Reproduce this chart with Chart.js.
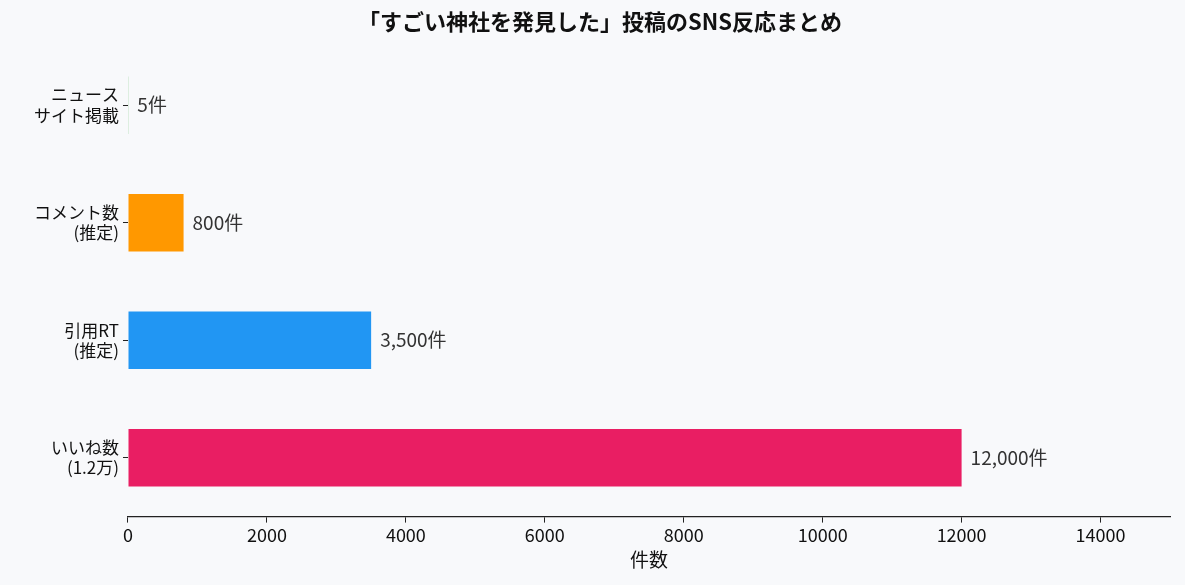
<!DOCTYPE html>
<html><head><meta charset="utf-8">
<script src="https://cdn.jsdelivr.net/npm/chart.js@4"></script>
<style>
html,body{margin:0;background:#f8f9fb;}
#wrap{width:1185px;height:585px;}
</style></head>
<body><div id="wrap"><canvas id="c"></canvas></div>
<script>
const categories = [['ニュース','サイト掲載'], ['コメント数','(推定)'], ['引用RT','(推定)'], ['いいね数','(1.2万)']];
const values = [5, 800, 3500, 12000];
const valueLabels = ['5件', '800件', '3,500件', '12,000件'];
const colors = ['#4CAF50', '#FF9800', '#2196F3', '#E91E63'];
const xTicks = [0, 2000, 4000, 6000, 8000, 10000, 12000, 14000];

const FONT = "'Noto Sans CJK JP', 'Noto Sans', sans-serif";
Chart.defaults.font.family = FONT;
Chart.defaults.color = '#111';

// value labels at the bar ends
const endLabels = {
  id: 'endLabels',
  afterDatasetsDraw(chart) {
    const ctx = chart.ctx;
    const meta = chart.getDatasetMeta(0);
    ctx.save();
    ctx.font = '19px ' + FONT;
    ctx.fillStyle = '#333';
    ctx.textBaseline = 'middle';
    meta.data.forEach((bar, i) => {
      ctx.fillText(valueLabels[i], bar.x + 9, bar.y);
    });
    ctx.restore();
  }
};

new Chart(document.getElementById('c'), {
  type: 'bar',
  data: {
    labels: categories,
    datasets: [{ data: values, backgroundColor: colors, barPercentage: 0.49, categoryPercentage: 1 }]
  },
  options: {
    indexAxis: 'y',
    responsive: true, maintainAspectRatio: false, animation: false,
    layout: { padding: { left: 30, right: 15, top: 0, bottom: 14 } },
    plugins: {
      legend: { display: false }, tooltip: { enabled: false },
      title: { display: true, text: '「すごい神社を発見した」投稿のSNS反応まとめ',
        font: { size: 22, weight: 'bold' }, color: '#111', padding: { top: 8, bottom: 12 } }
    },
    scales: {
      x: {
        min: 0, max: 15000,
        afterBuildTicks: axis => { axis.ticks = xTicks.map(v => ({ value: v })); },
        ticks: { font: { size: 18 }, color: '#111', padding: 2, callback: v => String(v) },
        grid: { drawOnChartArea: false, tickLength: 6, color: '#222' },
        border: { display: true, color: '#222', width: 1.3 },
        title: { display: true, text: '件数', font: { size: 19 }, color: '#111', padding: 0 }
      },
      y: {
        ticks: { font: { size: 17 }, color: '#111', padding: 4 },
        grid: { drawOnChartArea: false, offset: false, tickLength: 5, color: '#222' },
        border: { display: false }
      }
    }
  },
  plugins: [endLabels]
});
</script></body></html>
